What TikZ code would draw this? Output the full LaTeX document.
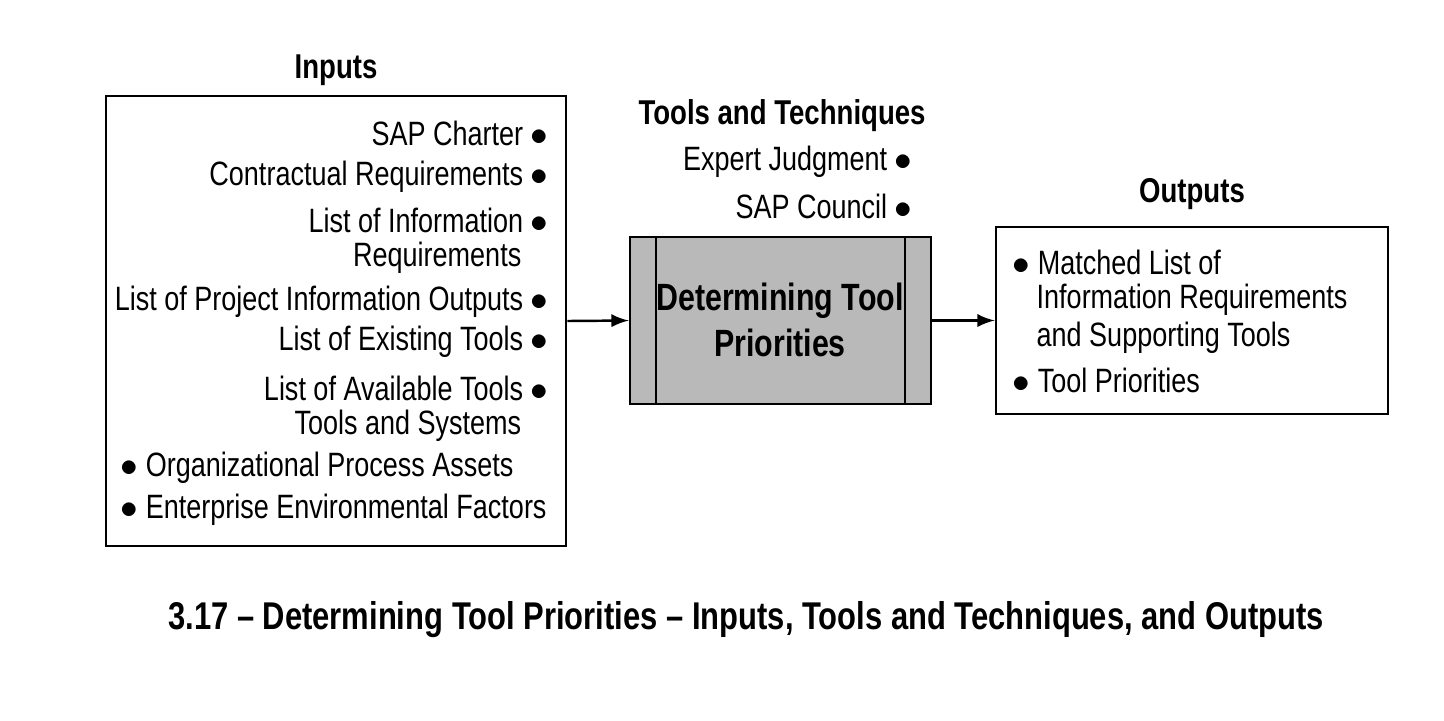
\documentclass[tikz,border=0pt]{standalone}
\usepackage{fontspec}
\setmainfont{Liberation Sans}[FakeStretch=0.8]
\usetikzlibrary{positioning}
\tikzset{
  item/.style={inner sep=0pt, font=\fontsize{9.6}{11}\selectfont},
  head/.style={inner sep=0pt, font=\fontsize{9.8}{11}\selectfont\bfseries},
  frame/.style={draw, line width=0.7pt},
  flow/.style={-latex, line width=0.7pt}
}
\newcommand{\bul}{$\bullet$}
\begin{document}
\begin{tikzpicture}[x=0.01cm,y=-0.01cm]
\useasboundingbox (0,0) rectangle (1444,720);
% inputs
\node[head] (intitle) at (336,70) {Inputs};
\node[frame, minimum width=4.6cm, minimum height=4.5cm, inner sep=0pt] (inbox) at (336,321) {};
\node[item, anchor=east] (i1) at (549,133) {SAP Charter \bul};
\node[item, anchor=east] (i2) at (549,177) {Contractual Requirements \bul};
\node[item, anchor=east] (i3) at (549,220) {List of Information \bul};
\node[item, anchor=east] (i4) at (522,258) {Requirements};
\node[item, anchor=east] (i5) at (549,302) {List of Project Information Outputs \bul};
\node[item, anchor=east] (i6) at (549,342) {List of Existing Tools \bul};
\node[item, anchor=east] (i7) at (549,388) {List of Available Tools \bul};
\node[item, anchor=east] (i8) at (522,426) {Tools and Systems};
\node[item, anchor=west] (i9) at (120,468) {\bul{} Organizational Process Assets};
\node[item, anchor=west] (i10) at (120,510) {\bul{} Enterprise Environmental Factors};
% tools and techniques
\node[head] (tttitle) at (782,116) {Tools and Techniques};
\node[item, anchor=east] (t1) at (913,162) {Expert Judgment \bul};
\node[item, anchor=east] (t2) at (913,206) {SAP Council \bul};
\node[frame, fill=gray!55, minimum width=3.01cm, minimum height=1.67cm, inner sep=0pt] (proc) at (780.5,320.5) {};
\draw[line width=0.7pt] (656,237) -- (656,404) (905,237) -- (905,404);
\node[head, align=center, font=\fontsize{10.8}{13}\selectfont\bfseries] (ptext) at (780,320) {Determining Tool\\Priorities};
% outputs
\node[head] (outtitle) at (1192,194) {Outputs};
\node[frame, minimum width=3.92cm, minimum height=1.87cm, inner sep=0pt] (outbox) at (1192,320.5) {};
\node[item, anchor=west] (o1) at (1012,262) {\bul{} Matched List of};
\node[item, anchor=west] (o2) at (1036,300) {Information Requirements};
\node[item, anchor=west] (o3) at (1036,338) {and Supporting Tools};
\node[item, anchor=west] (o4) at (1012,380) {\bul{} Tool Priorities};
\draw[flow] (inbox.east) -- (proc.west);
\draw[flow] (proc.east) -- (outbox.west);
% caption
\node[head, font=\fontsize{11}{13}\selectfont\bfseries] (caption) at (746,620) {3.17 -- Determining Tool Priorities -- Inputs, Tools and Techniques, and Outputs};
\end{tikzpicture}
\end{document}
